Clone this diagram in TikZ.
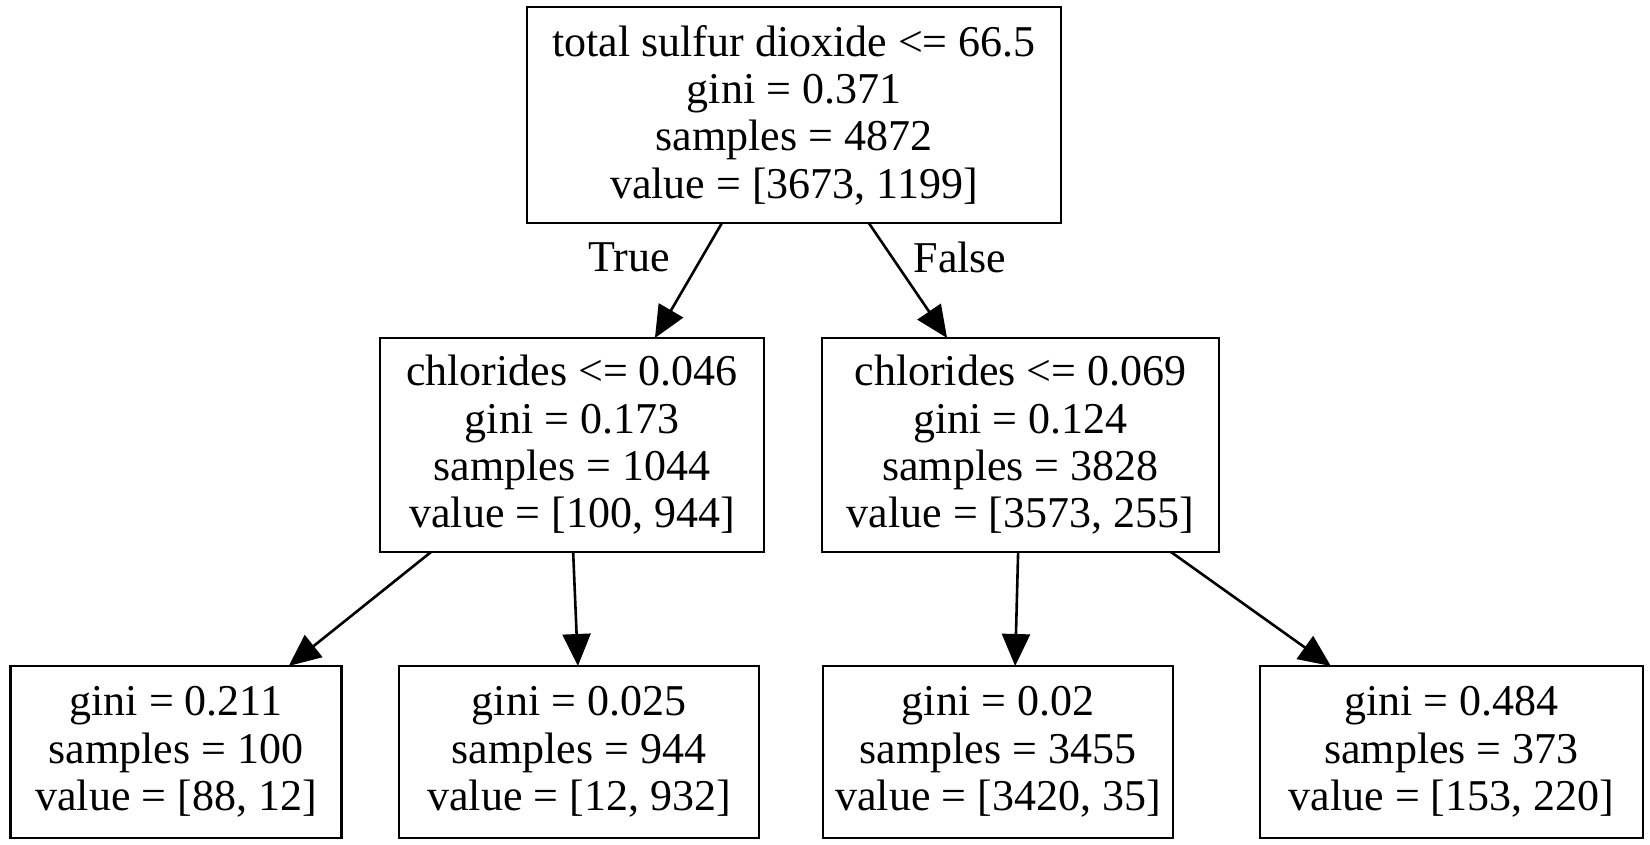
\documentclass[tikz,border=0pt]{standalone}
\usepackage{fontspec}
\setmainfont{Liberation Serif}
\usetikzlibrary{calc,arrows.meta}
\begin{document}
\begin{tikzpicture}[x=0.5pt,y=-0.5pt,
  box/.style={draw,line width=1.3pt,rectangle,align=center,inner sep=0pt,outer sep=0pt,
    font=\fontsize{22}{23.7}\selectfont},
  arr/.style={line width=1.3pt,-{Triangle[length=16pt,width=14pt]}},
  lbl/.style={font=\fontsize{22}{23.7}\selectfont,inner sep=0pt}]
\useasboundingbox (0,0) rectangle (1650,845);
\node[box,minimum width=267pt,minimum height=108pt] (root) at (794,115)
  {total sulfur dioxide <= 66.5\\gini = 0.371\\samples = 4872\\value = [3673, 1199]};
\node[box,minimum width=192pt,minimum height=107pt] (lm) at (572,445)
  {chlorides <= 0.046\\gini = 0.173\\samples = 1044\\value = [100, 944]};
\node[box,minimum width=198.5pt,minimum height=107pt] (rm) at (1020.5,445)
  {chlorides <= 0.069\\gini = 0.124\\samples = 3828\\value = [3573, 255]};
\node[box,minimum width=165.75pt,minimum height=86pt] (bl) at (176,752)
  {gini = 0.211\\samples = 100\\value = [88, 12]};
\node[box,minimum width=180pt,minimum height=86pt] (bml) at (579,752)
  {gini = 0.025\\samples = 944\\value = [12, 932]};
\node[box,minimum width=175pt,minimum height=86pt] (bmr) at (998,752)
  {gini = 0.02\\samples = 3455\\value = [3420, 35]};
\node[box,minimum width=191.5pt,minimum height=86pt] (br) at (1451.5,752)
  {gini = 0.484\\samples = 373\\value = [153, 220]};
\coordinate (r1) at ($(root.south west)!0.365!(root.south east)$);
\coordinate (r2) at ($(root.south west)!0.640!(root.south east)$);
\coordinate (lmt) at ($(lm.north west)!0.716!(lm.north east)$);
\coordinate (rmt) at ($(rm.north west)!0.315!(rm.north east)$);
\coordinate (lm1) at ($(lm.south west)!0.133!(lm.south east)$);
\coordinate (lm2) at ($(lm.south west)!0.503!(lm.south east)$);
\coordinate (rm1) at ($(rm.south west)!0.494!(rm.south east)$);
\coordinate (rm2) at ($(rm.south west)!0.879!(rm.south east)$);
\coordinate (blt) at ($(bl.north west)!0.840!(bl.north east)$);
\coordinate (bmlt) at ($(bml.north west)!0.497!(bml.north east)$);
\coordinate (bmrt) at ($(bmr.north west)!0.549!(bmr.north east)$);
\coordinate (brt) at ($(br.north west)!0.185!(br.north east)$);
\draw[arr] (r1) -- (lmt);
\draw[arr] (r2) -- (rmt);
\draw[arr] (lm1) -- (blt);
\draw[arr] (lm2) -- (bmlt);
\draw[arr] (rm1) -- (bmrt);
\draw[arr] (rm2) -- (brt);
\node[lbl] (t) at (629,257) {True};
\node[lbl] (f) at (960,257) {False};
\end{tikzpicture}
\end{document}
